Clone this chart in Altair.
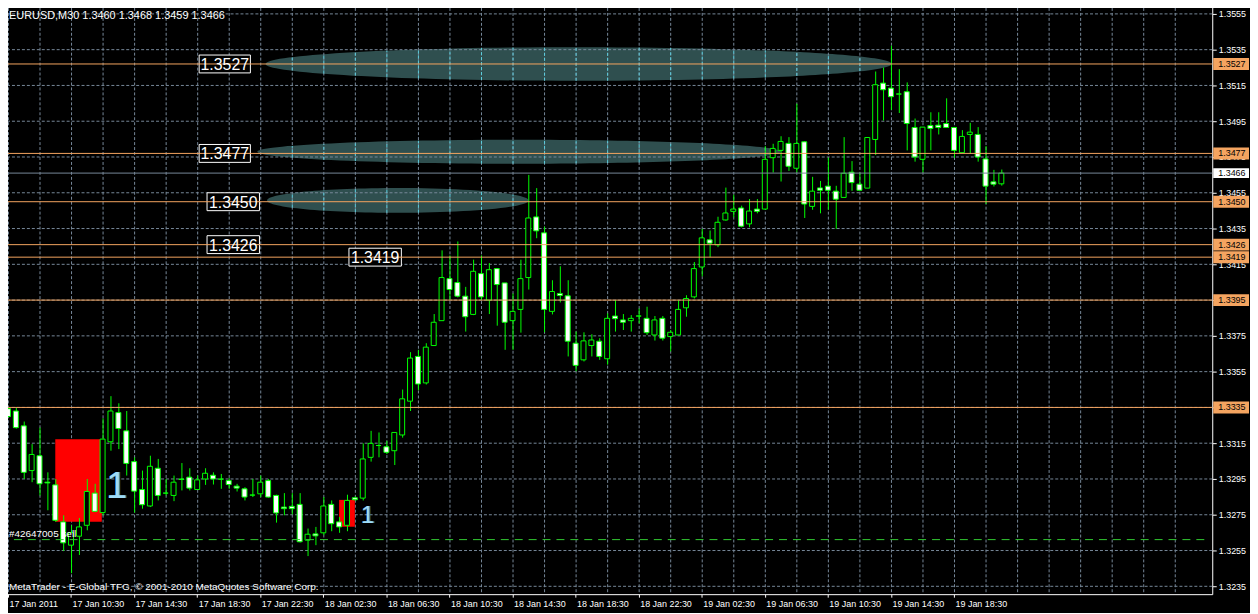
import json
import math
import altair as alt
import pandas as pd

# ---------------- data (EURUSD M30, bar 0 = 17 Jan 06:30) ----------------
opens = [1.33343, 1.33330, 1.33247, 1.32997, 1.33080, 1.32932, 1.32917, 1.32710, 1.32580, 1.32630,
         1.32691, 1.32871, 1.32762, 1.33158, 1.33321, 1.33219, 1.33047, 1.32891, 1.32799, 1.33010,
         1.32871, 1.32858, 1.32950, 1.32960, 1.32891, 1.32950, 1.32971, 1.32949, 1.32941, 1.32910,
         1.32895, 1.32860, 1.32867, 1.32941, 1.32858, 1.32793, 1.32797, 1.32808, 1.32608, 1.32643,
         1.32649, 1.32808, 1.32710, 1.32691, 1.32845, 1.32843, 1.33071, 1.33137, 1.33130, 1.33108,
         1.33196, 1.33385, 1.33635, 1.33487, 1.33696, 1.33835, 1.34070, 1.34048, 1.33972, 1.33870,
         1.34098, 1.33950, 1.34126, 1.34046, 1.33835, 1.33898, 1.34076, 1.34415, 1.34326, 1.33887,
         1.33987, 1.33974, 1.33709, 1.33616, 1.33696, 1.33720, 1.33622, 1.33861, 1.33839, 1.33835,
         1.33861, 1.33848, 1.33755, 1.33848, 1.33746, 1.33755, 1.33907, 1.33968, 1.34135, 1.34287,
         1.34259, 1.34398, 1.34446, 1.34465, 1.34376, 1.34459, 1.34459, 1.34746, 1.34787, 1.34826,
         1.34687, 1.34835, 1.34474, 1.34577, 1.34587, 1.34559, 1.34524, 1.34665, 1.34598, 1.34576,
         1.34848, 1.35163, 1.35135, 1.35102, 1.35115, 1.34915, 1.34737, 1.34926, 1.34928, 1.34937,
         1.34915, 1.34774, 1.34876, 1.34876, 1.34739, 1.34611, 1.34600]
highs = [1.33352, 1.33349, 1.33271, 1.33145, 1.33237, 1.32987, 1.32950, 1.32747, 1.32691, 1.32732,
         1.32950, 1.32923, 1.33289, 1.33413, 1.33373, 1.33330, 1.33071, 1.32997, 1.33080, 1.33062,
         1.32950, 1.32969, 1.33039, 1.33010, 1.32969, 1.33010, 1.32987, 1.32978, 1.32954, 1.32923,
         1.32904, 1.32950, 1.32969, 1.32950, 1.32862, 1.32871, 1.32871, 1.32871, 1.32673, 1.32682,
         1.32849, 1.32830, 1.32738, 1.32862, 1.32852, 1.33149, 1.33219, 1.33210, 1.33163, 1.33210,
         1.33450, 1.33659, 1.33672, 1.33709, 1.33872, 1.34228, 1.34200, 1.34278, 1.34024, 1.34176,
         1.34200, 1.34157, 1.34126, 1.34046, 1.33987, 1.34176, 1.34650, 1.34576, 1.34361, 1.34061,
         1.34139, 1.34061, 1.33774, 1.33770, 1.33759, 1.33737, 1.33876, 1.33950, 1.33872, 1.33866,
         1.33903, 1.33913, 1.33861, 1.33861, 1.33783, 1.33950, 1.33977, 1.34163, 1.34348, 1.34339,
         1.34416, 1.34579, 1.34539, 1.34478, 1.34515, 1.34515, 1.34811, 1.34824, 1.34866, 1.34861,
         1.35048, 1.34839, 1.34639, 1.34616, 1.34746, 1.34589, 1.34861, 1.34727, 1.34663, 1.34861,
         1.35228, 1.35250, 1.35372, 1.35241, 1.35167, 1.34965, 1.34917, 1.35000, 1.35000, 1.35078,
         1.34917, 1.34900, 1.34941, 1.34917, 1.34811, 1.34678, 1.34680]
lows = [1.33295, 1.33232, 1.32950, 1.32932, 1.32858, 1.32775, 1.32710, 1.32547, 1.32423, 1.32525,
        1.32663, 1.32765, 1.32747, 1.33108, 1.33117, 1.32969, 1.32762, 1.32784, 1.32793, 1.32830,
        1.32858, 1.32826, 1.32886, 1.32886, 1.32891, 1.32917, 1.32919, 1.32895, 1.32895, 1.32880,
        1.32830, 1.32849, 1.32849, 1.32845, 1.32706, 1.32747, 1.32752, 1.32595, 1.32519, 1.32580,
        1.32636, 1.32658, 1.32649, 1.32658, 1.32830, 1.32830, 1.33047, 1.33071, 1.33089, 1.33028,
        1.33181, 1.33330, 1.33446, 1.33478, 1.33696, 1.33835, 1.33950, 1.33965, 1.33774, 1.33866,
        1.33950, 1.33872, 1.33807, 1.33672, 1.33672, 1.33768, 1.34009, 1.34296, 1.33770, 1.33870,
        1.33937, 1.33635, 1.33552, 1.33607, 1.33635, 1.33616, 1.33589, 1.33774, 1.33783, 1.33774,
        1.33820, 1.33755, 1.33724, 1.33724, 1.33663, 1.33755, 1.33857, 1.33959, 1.34083, 1.34190,
        1.34246, 1.34394, 1.34413, 1.34357, 1.34357, 1.34435, 1.34455, 1.34663, 1.34613, 1.34672,
        1.34663, 1.34409, 1.34455, 1.34435, 1.34455, 1.34348, 1.34524, 1.34561, 1.34561, 1.34576,
        1.34761, 1.34954, 1.35013, 1.34996, 1.34787, 1.34724, 1.34663, 1.34787, 1.34876, 1.34913,
        1.34746, 1.34774, 1.34769, 1.34724, 1.34487, 1.34585, 1.34590]
closes = [1.33299, 1.33237, 1.32987, 1.33087, 1.32923, 1.32928, 1.32719, 1.32593, 1.32650, 1.32682,
          1.32880, 1.32769, 1.33173, 1.33330, 1.33232, 1.33037, 1.32882, 1.32806, 1.33021, 1.32858,
          1.32871, 1.32932, 1.32947, 1.32899, 1.32945, 1.32982, 1.32950, 1.32949, 1.32919, 1.32899,
          1.32849, 1.32860, 1.32932, 1.32849, 1.32760, 1.32784, 1.32784, 1.32599, 1.32641, 1.32632,
          1.32799, 1.32700, 1.32682, 1.32830, 1.32834, 1.33062, 1.33149, 1.33137, 1.33099, 1.33210,
          1.33398, 1.33626, 1.33481, 1.33687, 1.33826, 1.34076, 1.34009, 1.33972, 1.33857, 1.34111,
          1.33968, 1.34120, 1.34037, 1.33826, 1.33887, 1.34070, 1.34409, 1.34337, 1.33898, 1.33998,
          1.33976, 1.33720, 1.33585, 1.33722, 1.33727, 1.33635, 1.33848, 1.33846, 1.33826, 1.33848,
          1.33861, 1.33768, 1.33839, 1.33737, 1.33770, 1.33898, 1.33959, 1.34126, 1.34298, 1.34268,
          1.34385, 1.34437, 1.34459, 1.34363, 1.34448, 1.34446, 1.34737, 1.34798, 1.34837, 1.34698,
          1.34826, 1.34487, 1.34559, 1.34564, 1.34564, 1.34514, 1.34659, 1.34607, 1.34564, 1.34859,
          1.35154, 1.35126, 1.35087, 1.35102, 1.34937, 1.34750, 1.34917, 1.34909, 1.34915, 1.34915,
          1.34787, 1.34865, 1.34889, 1.34750, 1.34587, 1.34598, 1.34660]
bars = list(range(len(opens)))

date_labels = ["17 Jan 2011", "17 Jan 10:30", "17 Jan 14:30", "17 Jan 18:30", "17 Jan 22:30",
               "18 Jan 02:30", "18 Jan 06:30", "18 Jan 10:30", "18 Jan 14:30", "18 Jan 18:30",
               "18 Jan 22:30", "19 Jan 02:30", "19 Jan 06:30", "19 Jan 10:30", "19 Jan 14:30",
               "19 Jan 18:30"]
price_ticks = [1.3235, 1.3255, 1.3275, 1.3295, 1.3315, 1.3335, 1.3355, 1.3375, 1.3395,
               1.3415, 1.3435, 1.3455, 1.3475, 1.3495, 1.3515, 1.3535, 1.3555]
grid_bars = list(range(0, 152, 4))

level_prices = [1.3527, 1.3477, 1.3450, 1.3426, 1.3419, 1.3395, 1.3335]
current_price = 1.3466
order_price = 1.32611
order_label = "#42647005 sell"

box_levels = [1.3527, 1.3477, 1.3450, 1.3426, 1.3419]
box_start = [24.25, 24.25, 25.25, 25.25, 43.25]
box_end = [30.75, 30.75, 31.9, 31.9, 49.9]

ell_center_price = [1.35270, 1.34779, 1.34507]
ell_start = [33.0, 31.9, 33.0]
ell_end = [111.75, 97.75, 65.9]
ell_half_price = [0.00094, 0.00067, 0.00069]

zone_start = [6.0, 42.0]
zone_end = [11.9, 44.0]
zone_top = [1.33172, 1.32833]
zone_bottom = [1.32711, 1.32683]

trade_bar = [13.75, 45.6]
trade_price = [1.32906, 1.32744]

header_text = "EURUSD,M30  1.3460 1.3468 1.3459 1.3466"
footer_text = "MetaTrader - E-Global TFG, \u00a9 2001-2010 MetaQuotes Software Corp."

# ---------------- layout ----------------
W, H = 1220, 595
X_DOMAIN = [-0.375, 152.125]
Y_DOMAIN = [1.32306, 1.35611]
GRID = "#778899"
CYAN = "#5ccfdf"
FONT = "Liberation Sans"
ORANGE = "#F4A460"
GREEN = "#00FF00"
SLATE = "#2F4F4F"

x_scale = alt.Scale(domain=X_DOMAIN, nice=False, zero=False)
y_scale = alt.Scale(domain=Y_DOMAIN, nice=False, zero=False)

label_expr = ("(datum.value % 8 === 0 && datum.value <= 120) ? "
              + json.dumps(date_labels) + "[datum.value / 8] : ''")

x_axis = alt.Axis(values=grid_bars, labelExpr=label_expr, title=None,
                  grid=False, domain=False,
                  tickColor="white", tickSize=3,
                  tickOpacity={"condition": {"test": "datum.value % 8 === 0 && datum.value <= 120", "value": 1}, "value": 0},
                  labelColor="white", labelFont=FONT, labelFontSize=9, labelAlign="left",
                  labelBaseline="top", labelPadding=2, labelOffset=1,
                  labelOverlap=False, labelFlush=False)
y_axis = alt.Axis(orient="right", values=price_ticks, format=".4f", title=None,
                  grid=False, domain=False,
                  tickColor="white", tickSize=4, labelColor="white", labelFont=FONT,
                  labelFontSize=9, labelPadding=2, labelOverlap=False, labelFlush=False)


def X(f):
    return alt.X(f, type="quantitative", scale=x_scale, axis=x_axis)


def Y(f):
    return alt.Y(f, type="quantitative", scale=y_scale, axis=y_axis)


cdf = pd.DataFrame({"bar": bars, "open": opens, "high": highs, "low": lows, "close": closes})
cdf["fill"] = ["white" if c < o else "black" for o, c in zip(opens, closes)]

layers = []

# ellipses (background objects)
px_per_bar = W / (X_DOMAIN[1] - X_DOMAIN[0])
px_per_price = H / (Y_DOMAIN[1] - Y_DOMAIN[0])
k = 0.5523
cyan_rows = []
for cp, s, e, hp in zip(ell_center_price, ell_start, ell_end, ell_half_price):
    hw = (e - s) / 2 * px_per_bar
    hh = hp * px_per_price
    r = hh / hw
    path = (f"M-1,0C-1,{-k*r:.5f},{-k:.4f},{-r:.5f},0,{-r:.5f}"
            f"C{k:.4f},{-r:.5f},1,{-k*r:.5f},1,0"
            f"C1,{k*r:.5f},{k:.4f},{r:.5f},0,{r:.5f}"
            f"C{-k:.4f},{r:.5f},-1,{k*r:.5f},-1,0Z")
    cx = (s + e) / 2
    edf = pd.DataFrame({"bar": [cx], "price": [cp]})
    layers.append(alt.Chart(edf).mark_point(shape=path, size=(2 * hw) ** 2, filled=True,
                                            color=SLATE, fill=SLATE, opacity=1,
                                            fillOpacity=1, strokeWidth=0).encode(
        x=X("bar"), y=Y("price")))
    half_bars = (e - s) / 2
    for g in grid_bars:
        u = (g - cx) / half_bars
        if abs(u) < 0.98:
            d = hp * math.sqrt(1 - u * u)
            cyan_rows.append({"bar": g, "lo": cp - d, "hi": cp + d})

# grid (drawn over the background ellipses)
layers.append(alt.Chart(pd.DataFrame({"bar": grid_bars})).mark_rule(
    color=GRID, strokeWidth=1, strokeDash=[3, 2], xOffset=0.5).encode(x=X("bar")))
layers.append(alt.Chart(pd.DataFrame({"price": price_ticks})).mark_rule(
    color=GRID, strokeWidth=1, strokeDash=[3, 2]).encode(y=Y("price")))
layers.append(alt.Chart(pd.DataFrame(cyan_rows)).mark_rule(
    color=CYAN, strokeWidth=1, strokeDash=[3, 2], xOffset=0.5).encode(
    x=X("bar"), y=Y("lo"), y2=alt.Y2("hi")))

# red trade zones
zdf = pd.DataFrame({"s": zone_start, "e": zone_end, "t": zone_top, "b": zone_bottom})
layers.append(alt.Chart(zdf).mark_rect(color="#FF0000").encode(
    x=X("s"), x2=alt.X2("e"), y=Y("t"), y2=alt.Y2("b")))

# left label boxes (frames)
bdf = pd.DataFrame({"level": box_levels, "s": box_start, "e": box_end})
bdf["mid"] = (bdf["s"] + bdf["e"]) / 2
bdf["label"] = [f"{v:.4f}" for v in box_levels]
layers.append(alt.Chart(bdf).mark_rect(fill="black", stroke="white", strokeWidth=1,
                                       yOffset=-9, y2Offset=9).encode(
    x=X("s"), x2=alt.X2("e"), y=Y("level"), y2=alt.Y2("level")))

# candles
layers.append(alt.Chart(cdf).mark_rule(color=GREEN, strokeWidth=1, xOffset=0.5).encode(
    x=X("bar"), y=Y("low"), y2=alt.Y2("high")))
layers.append(alt.Chart(cdf).mark_bar(size=5, stroke=GREEN, strokeWidth=1, orient="vertical").encode(
    x=X("bar"), y=Y("open"), y2=alt.Y2("close"), fill=alt.Fill("fill:N", scale=None)))

# horizontal lines
ldf = pd.DataFrame({"price": level_prices})
layers.append(alt.Chart(ldf).mark_rule(color=ORANGE, strokeWidth=1).encode(y=Y("price")))
layers.append(alt.Chart(pd.DataFrame({"price": [current_price]})).mark_rule(
    color=GRID, strokeWidth=1).encode(y=Y("price")))
layers.append(alt.Chart(pd.DataFrame({"price": [order_price]})).mark_rule(
    color="#32CD32", strokeWidth=1, strokeDash=[8, 6]).encode(
    y=Y("price"), x=alt.value(0), x2=alt.value(1213)))

# left label texts
layers.append(alt.Chart(bdf).mark_text(font=FONT, fontSize=16, color="white", align="center",
                                       baseline="middle", dy=1).encode(
    x=X("mid"), y=Y("level"), text="label:N"))

# trade markers "1"
tdf = pd.DataFrame({"bar": trade_bar, "price": trade_price, "t": ["1", "1"]})
for idx, fs in [(0, 38), (1, 24)]:
    one = tdf.iloc[[idx]]
    layers.append(alt.Chart(one).mark_text(font=FONT, fontSize=fs, color="#3d7fa3", align="center",
                                           baseline="middle", dx=1.5).encode(
        x=X("bar"), y=Y("price"), text="t:N"))
    layers.append(alt.Chart(one).mark_text(font=FONT, fontSize=fs, color="#9fdcf6", align="center",
                                           baseline="middle").encode(
        x=X("bar"), y=Y("price"), text="t:N"))

# order label
layers.append(alt.Chart(pd.DataFrame({"price": [order_price], "t": [order_label]})).mark_text(
    font=FONT, fontSize=10, color="white", align="left", baseline="bottom", dy=-1).encode(
    x=alt.value(9), y=Y("price"), text="t:N"))

# right-side price boxes
rdf = pd.DataFrame({"price": level_prices, "label": [f"{v:.4f}" for v in level_prices]})
layers.append(alt.Chart(rdf).mark_rect(fill=ORANGE, yOffset=-6, y2Offset=6).encode(
    x=alt.value(W + 1), x2=alt.value(W + 37), y=Y("price"), y2=alt.Y2("price")))
layers.append(alt.Chart(rdf).mark_text(font=FONT, fontSize=9, color="black", align="left",
                                       baseline="middle").encode(
    x=alt.value(W + 6), y=Y("price"), text="label:N"))
cdf2 = pd.DataFrame({"price": [current_price], "label": [f"{current_price:.4f}"]})
layers.append(alt.Chart(cdf2).mark_rect(fill="white", yOffset=-5, y2Offset=5).encode(
    x=alt.value(W + 1), x2=alt.value(W + 37), y=Y("price"), y2=alt.Y2("price")))
layers.append(alt.Chart(cdf2).mark_text(font=FONT, fontSize=9, color="black", align="left",
                                        baseline="middle").encode(
    x=alt.value(W + 6), y=Y("price"), text="label:N"))

# header / footer
one_row = pd.DataFrame({"t": [header_text], "f": [footer_text]})
layers.append(alt.Chart(one_row).mark_text(font=FONT, fontSize=11, color="white", align="left",
                                           baseline="middle").encode(
    x=alt.value(9), y=alt.value(13), text="t:N"))
layers.append(alt.Chart(one_row).mark_text(font=FONT, fontSize=10, color="white", align="left",
                                           baseline="middle").encode(
    x=alt.value(9), y=alt.value(588), text="f:N"))

chart = alt.layer(*layers).properties(
    width=W, height=H,
    padding={"left": -8, "top": -7, "right": 38, "bottom": 17},
    autosize=alt.AutoSizeParams(type="none"),
    background="black",
).configure_view(fill="black", stroke="white", strokeWidth=1)

chart.save("out.html", embed_options={"renderer": "svg", "actions": False})
